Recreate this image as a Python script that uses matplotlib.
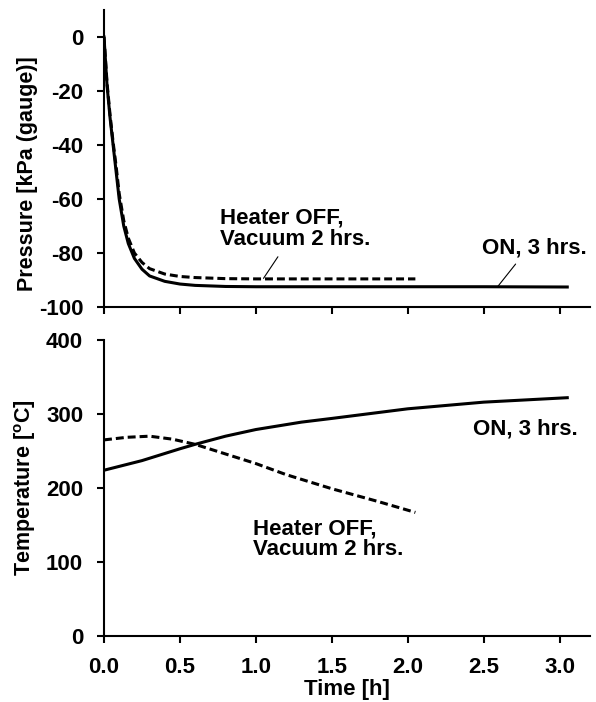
import matplotlib.pyplot as plt
import numpy as np

plt.rcParams['font.family'] = ['Liberation Sans', 'DejaVu Sans']
plt.rcParams['font.weight'] = 'bold'
plt.rcParams['axes.labelweight'] = 'bold'
plt.rcParams['font.size'] = 16
plt.rcParams['axes.unicode_minus'] = False

# pressure, heater ON 3 hrs (solid)
t_p_on = [0.0, 0.02, 0.04, 0.06, 0.08, 0.1, 0.13, 0.16, 0.2, 0.25, 0.3, 0.4, 0.5, 0.6, 0.8, 1.0, 1.5, 2.0, 2.5, 3.05]
p_on = [0, -18, -30, -40, -50, -60, -70, -76.5, -82, -86, -88.5, -90.5, -91.5, -92, -92.4, -92.5, -92.5, -92.5, -92.5, -92.6]

# pressure, heater OFF vacuum 2 hrs (dashed)
t_p_off = [0.0, 0.02, 0.04, 0.06, 0.08, 0.1, 0.13, 0.16, 0.2, 0.25, 0.3, 0.4, 0.5, 0.6, 0.8, 1.0, 1.5, 2.05]
p_off = [0, -17, -29, -39, -48, -58, -68, -74.5, -80, -83.5, -85.8, -87.8, -88.7, -89.1, -89.5, -89.6, -89.6, -89.6]

# temperature, heater ON 3 hrs (solid)
t_T_on = [0.0, 0.25, 0.5, 0.6, 0.8, 1.0, 1.3, 1.5, 2.0, 2.5, 3.05]
T_on = [224, 237, 253, 259, 270, 279, 289, 294, 307, 316, 322]

# temperature, heater OFF vacuum 2 hrs (dashed)
t_T_off = [0.0, 0.15, 0.3, 0.45, 0.6, 0.8, 1.0, 1.2, 1.5, 1.8, 2.05]
T_off = [265, 268.5, 270, 266, 259, 246, 233, 218, 199, 182, 167]

fig = plt.figure(figsize=(5.96, 7.02), dpi=100)
ax1 = fig.add_axes([0.1745, 0.5627, 0.8155, 0.4231])
ax2 = fig.add_axes([0.1745, 0.094, 0.8155, 0.4217])

lw = 2.2
dash = (0, (2.6, 1.3))

ax1.plot(t_p_off, p_off, color='black', lw=lw, linestyle=dash)
ax1.plot(t_p_on, p_on, color='black', lw=lw)
ax2.plot(t_T_on, T_on, color='black', lw=lw)
ax2.plot(t_T_off, T_off, color='black', lw=lw, linestyle=dash)

for ax in (ax1, ax2):
    ax.spines['top'].set_visible(False)
    ax.spines['right'].set_visible(False)
    ax.spines['left'].set_linewidth(1.5)
    ax.spines['bottom'].set_linewidth(1.5)
    ax.tick_params(direction='out', length=5, width=1.5, pad=10)
    ax.set_xlim(0, 3.2)
    ax.set_xticks([0, 0.5, 1.0, 1.5, 2.0, 2.5, 3.0])

ax1.set_ylim(-100, 10)
ax1.set_yticks([0, -20, -40, -60, -80, -100])
ax1.set_xticklabels([])
ax1.set_ylabel('Pressure [kPa (gauge)]', fontsize=15.5)
ax1.yaxis.set_label_coords(-0.135, 0.45)

ax2.set_ylim(0, 400)
ax2.set_yticks([0, 100, 200, 300, 400])
ax2.set_xticklabels(['0.0', '0.5', '1.0', '1.5', '2.0', '2.5', '3.0'])
ax2.set_ylabel('Temperature [$^\\mathregular{o}$C]', fontsize=15.5)
ax2.yaxis.set_label_coords(-0.135, 0.5)
ax2.set_xlabel('Time [h]', labelpad=1)

# labels with leader lines
lead = dict(arrowstyle='-', color='black', lw=0.8, shrinkA=0, shrinkB=0)
ax1.text(0.765, -71, 'Heater OFF,\nVacuum 2 hrs.', ha='left', va='center', linespacing=1.0)
ax1.annotate('', xy=(1.05, -89.4), xytext=(1.145, -81.4), arrowprops=lead)
ax1.text(2.487, -78, 'ON, 3 hrs.', ha='left', va='center')
ax1.annotate('', xy=(2.594, -92.3), xytext=(2.71, -84.1), arrowprops=lead)

ax2.text(2.43, 280, 'ON, 3 hrs.', ha='left', va='center')
ax2.text(0.983, 131, 'Heater OFF,\nVacuum 2 hrs.', ha='left', va='center', linespacing=1.0)

fig.savefig('out.png', dpi=100)
